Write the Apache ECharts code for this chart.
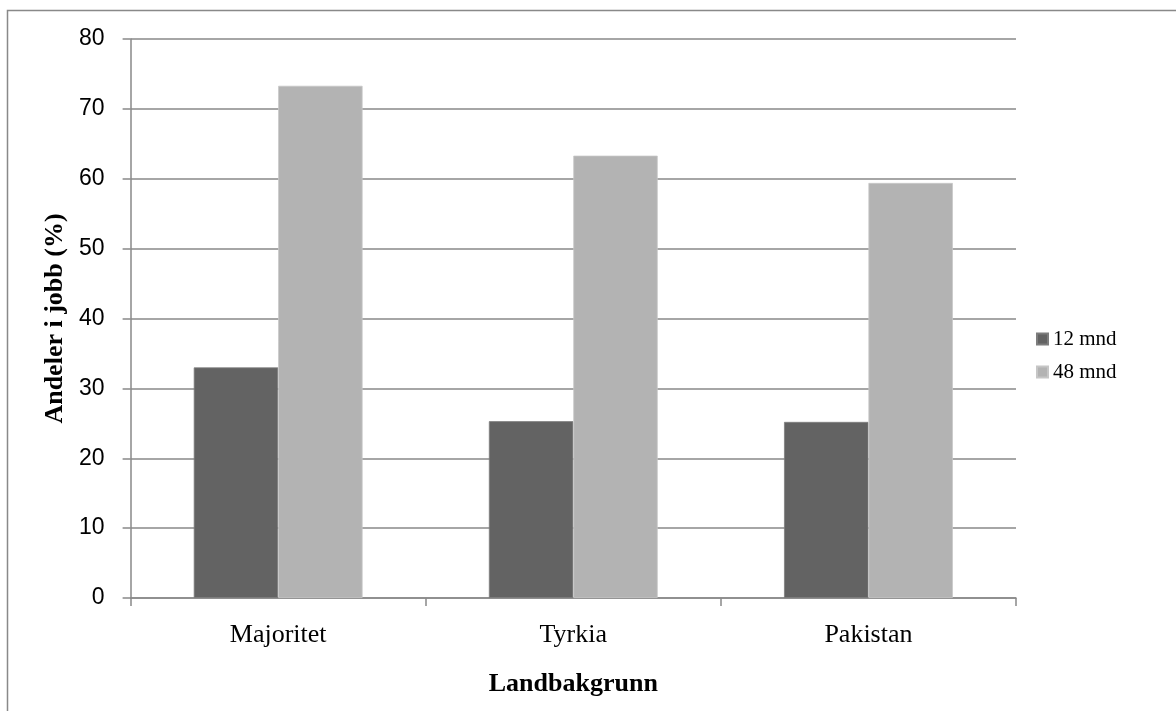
<!DOCTYPE html>
<html>
<head>
<meta charset="utf-8">
<script src="https://cdn.jsdelivr.net/npm/echarts@6/dist/echarts.min.js"></script>
<style>
html,body{margin:0;padding:0;background:#fff;}
#chart{width:1176px;height:711px;}
</style>
</head>
<body>
<div id="chart"></div>
<script>
const categories = ['Majoritet', 'Tyrkia', 'Pakistan'];
const seriesNames = ['12 mnd', '48 mnd'];
const values12 = [33.0, 25.3, 25.2];
const values48 = [73.3, 63.3, 59.4];
const yTicks = [0, 80, 10];

const axisGrey = '#898989';
const chart = echarts.init(document.getElementById('chart'));
chart.setOption({
  backgroundColor: '#ffffff',
  animation: false,
  graphic: [{
    type: 'rect',
    shape: {x: 7.5, y: 10.5, width: 1400, height: 1000},
    style: {fill: 'none', stroke: axisGrey, lineWidth: 1.5},
    silent: true
  }],
  grid: {left: 130.6, right: 160, top: 39, bottom: 113, containLabel: false},
  legend: {
    orient: 'vertical',
    left: 1031,
    top: 'middle',
    itemWidth: 11,
    itemHeight: 11,
    itemGap: 12,
    icon: 'rect',
    textStyle: {fontFamily: 'Liberation Serif', fontSize: 21, color: '#000'},
    data: seriesNames
  },
  xAxis: {
    type: 'category',
    data: categories,
    name: 'Landbakgrunn',
    nameLocation: 'middle',
    nameGap: 73,
    nameTextStyle: {fontFamily: 'Liberation Serif', fontWeight: 'bold', fontSize: 26, color: '#000'},
    axisLine: {lineStyle: {color: axisGrey, width: 1.5}},
    axisTick: {show: true, length: 8, alignWithLabel: false, lineStyle: {color: axisGrey, width: 1.5}},
    axisLabel: {fontFamily: 'Liberation Serif', fontSize: 26, color: '#000', margin: 24}
  },
  yAxis: {
    type: 'value',
    min: yTicks[0], max: yTicks[1], interval: yTicks[2],
    name: 'Andeler i jobb (%)',
    nameLocation: 'middle',
    nameRotate: 90,
    nameGap: 58,
    nameTextStyle: {fontFamily: 'Liberation Serif', fontWeight: 'bold', fontSize: 26, color: '#000'},
    axisLine: {show: true, lineStyle: {color: axisGrey, width: 1.5}},
    axisTick: {show: true, length: 8, lineStyle: {color: axisGrey, width: 1.5}},
    axisLabel: {fontFamily: 'Liberation Sans', fontSize: 23, color: '#000', margin: 26},
    splitLine: {show: true, lineStyle: {color: axisGrey, width: 1.5}}
  },
  series: [
    {name: seriesNames[0], type: 'bar', data: values12, barGap: '0%', barCategoryGap: '42.8%',
     itemStyle: {color: '#636363', borderColor: '#7d7d7d', borderWidth: 0.8}},
    {name: seriesNames[1], type: 'bar', data: values48, barGap: '0%', barCategoryGap: '42.8%',
     itemStyle: {color: '#b3b3b3', borderColor: '#c6c6c6', borderWidth: 0.8}}
  ]
});
</script>
</body>
</html>
